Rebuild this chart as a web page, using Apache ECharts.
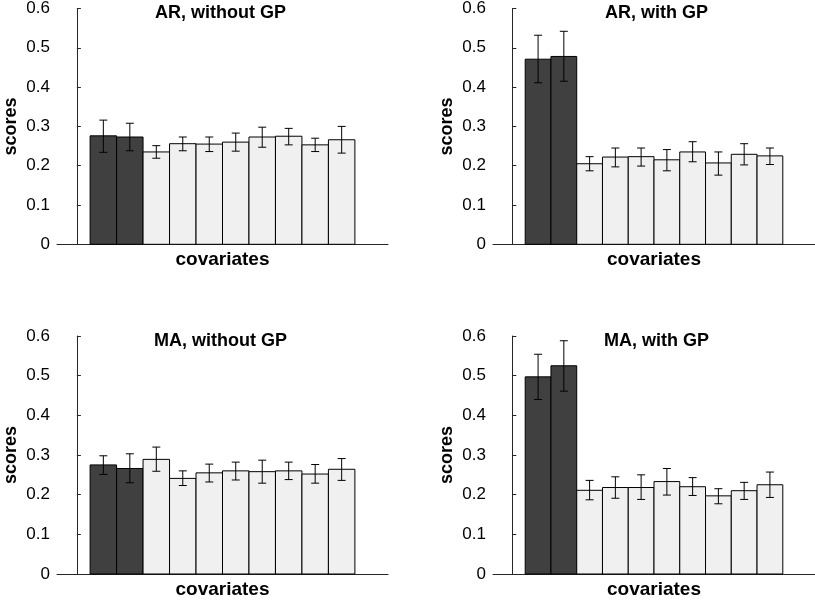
<!DOCTYPE html>
<html><head><meta charset="utf-8">
<script src="https://cdn.jsdelivr.net/npm/echarts@6/dist/echarts.min.js"></script>
<style>html,body{margin:0;padding:0;background:#fff}#c{width:815px;height:602px}</style>
</head><body><div id="c"></div>
<script>
// ---- data ----
const covariates = [1, 2, 3, 4, 5, 6, 7, 8, 9, 10];
const yTicks = [0, 0.1, 0.2, 0.3, 0.4, 0.5, 0.6];
const panelTitles = ['AR, without GP', 'AR, with GP', 'MA, without GP', 'MA, with GP'];

const arNoGP     = [0.276, 0.273, 0.235, 0.256, 0.255, 0.260, 0.273, 0.275, 0.253, 0.266];
const arNoGPLow  = [0.234, 0.238, 0.219, 0.238, 0.236, 0.237, 0.247, 0.253, 0.236, 0.232];
const arNoGPHigh = [0.316, 0.308, 0.251, 0.273, 0.273, 0.283, 0.298, 0.295, 0.270, 0.300];

const arGP     = [0.471, 0.478, 0.205, 0.222, 0.223, 0.215, 0.235, 0.207, 0.229, 0.225];
const arGPLow  = [0.411, 0.415, 0.187, 0.197, 0.199, 0.187, 0.210, 0.176, 0.202, 0.203];
const arGPHigh = [0.532, 0.542, 0.223, 0.245, 0.245, 0.241, 0.261, 0.235, 0.256, 0.245];

const maNoGP     = [0.275, 0.266, 0.289, 0.241, 0.255, 0.260, 0.258, 0.260, 0.252, 0.264];
const maNoGPLow  = [0.251, 0.230, 0.259, 0.223, 0.232, 0.237, 0.229, 0.238, 0.229, 0.236];
const maNoGPHigh = [0.298, 0.303, 0.320, 0.260, 0.277, 0.282, 0.287, 0.282, 0.276, 0.291];

const maGP     = [0.497, 0.525, 0.211, 0.218, 0.218, 0.233, 0.220, 0.197, 0.210, 0.225];
const maGPLow  = [0.440, 0.461, 0.187, 0.191, 0.188, 0.199, 0.198, 0.177, 0.188, 0.193];
const maGPHigh = [0.554, 0.588, 0.236, 0.245, 0.250, 0.266, 0.243, 0.215, 0.231, 0.257];

// number of leading (highlighted) covariates drawn dark
const HIGHLIGHT_COUNT = 2;

const panels = [
  [arNoGP, arNoGPLow, arNoGPHigh],
  [arGP, arGPLow, arGPHigh],
  [maNoGP, maNoGPLow, maNoGPHigh],
  [maGP, maGPLow, maGPHigh]
];

// ---- layout / style ----
const FONT = '"Liberation Sans", Arial, Helvetica, sans-serif';
const AXIS_COLOR = '#262626';
const grids = [
  {left: 57, top: 7.3, width: 331, height: 237},
  {left: 493, top: 7.3, width: 331, height: 237},
  {left: 57, top: 336, width: 331, height: 238},
  {left: 493, top: 336, width: 331, height: 238}
];

const xAxes = [], yAxes = [], series = [], graphics = [];
grids.forEach((g, i) => {
  xAxes.push({
    gridIndex: i, type: 'value', min: -0.75, max: covariates.length + 1.75,
    axisLine: {show: true, onZero: false, lineStyle: {color: AXIS_COLOR, width: 1}},
    axisTick: {show: false}, axisLabel: {show: false}, splitLine: {show: false},
    name: 'covariates', nameLocation: 'middle', nameGap: 6,
    nameTextStyle: {fontFamily: FONT, fontWeight: 'bold', fontSize: 19, color: '#000', verticalAlign: 'top'}
  });
  yAxes.push({
    gridIndex: i, type: 'value', min: yTicks[0], max: yTicks[yTicks.length - 1],
    interval: yTicks[1] - yTicks[0],
    axisLine: {show: true, lineStyle: {color: AXIS_COLOR, width: 1}},
    axisTick: {show: true, inside: true, length: 4, lineStyle: {color: AXIS_COLOR}},
    axisLabel: {fontFamily: FONT, fontSize: 17, color: '#000', margin: 7,
      formatter: v => String(+v.toFixed(1))},
    splitLine: {show: false},
    name: 'scores', nameLocation: 'middle', nameGap: 37, nameRotate: 90,
    nameTextStyle: {fontFamily: FONT, fontWeight: 'bold', fontSize: 18, color: '#000'}
  });
  const [vals, lows, highs] = panels[i];
  series.push({
    type: 'custom', xAxisIndex: i, yAxisIndex: i,
    data: covariates.map((c, k) => [c, vals[k], lows[k], highs[k]]),
    renderItem: function (params, api) {
      const x = api.value(0), v = api.value(1), lo = api.value(2), hi = api.value(3);
      const pTL = api.coord([x - 0.5, v]);
      const pBR = api.coord([x + 0.5, 0]);
      const pLo = api.coord([x, lo]);
      const pHi = api.coord([x, hi]);
      const cap = 4;
      const fill = params.dataIndex < HIGHLIGHT_COUNT ? '#404040' : '#f0f0f0';
      const es = {stroke: '#000', lineWidth: 1};
      return {type: 'group', children: [
        {type: 'rect', shape: {x: pTL[0], y: pTL[1], width: pBR[0] - pTL[0], height: pBR[1] - pTL[1]},
          style: {fill: fill, stroke: '#000', lineWidth: 1}},
        {type: 'line', shape: {x1: pLo[0], y1: pLo[1], x2: pHi[0], y2: pHi[1]}, style: es},
        {type: 'line', shape: {x1: pLo[0] - cap, y1: pLo[1], x2: pLo[0] + cap, y2: pLo[1]}, style: es},
        {type: 'line', shape: {x1: pHi[0] - cap, y1: pHi[1], x2: pHi[0] + cap, y2: pHi[1]}, style: es}
      ]};
    }
  });
  graphics.push({
    type: 'text', x: g.left + g.width / 2 - 2, y: g.top - 3.5,
    style: {text: panelTitles[i], textAlign: 'center', textVerticalAlign: 'top',
      font: 'bold 18px ' + FONT, fill: '#000'}
  });
});

const chart = echarts.init(document.getElementById('c'), null, {renderer: 'canvas'});
chart.setOption({
  animation: false,
  backgroundColor: '#fff',
  grid: grids,
  xAxis: xAxes,
  yAxis: yAxes,
  series: series,
  graphic: graphics
});
</script></body></html>
